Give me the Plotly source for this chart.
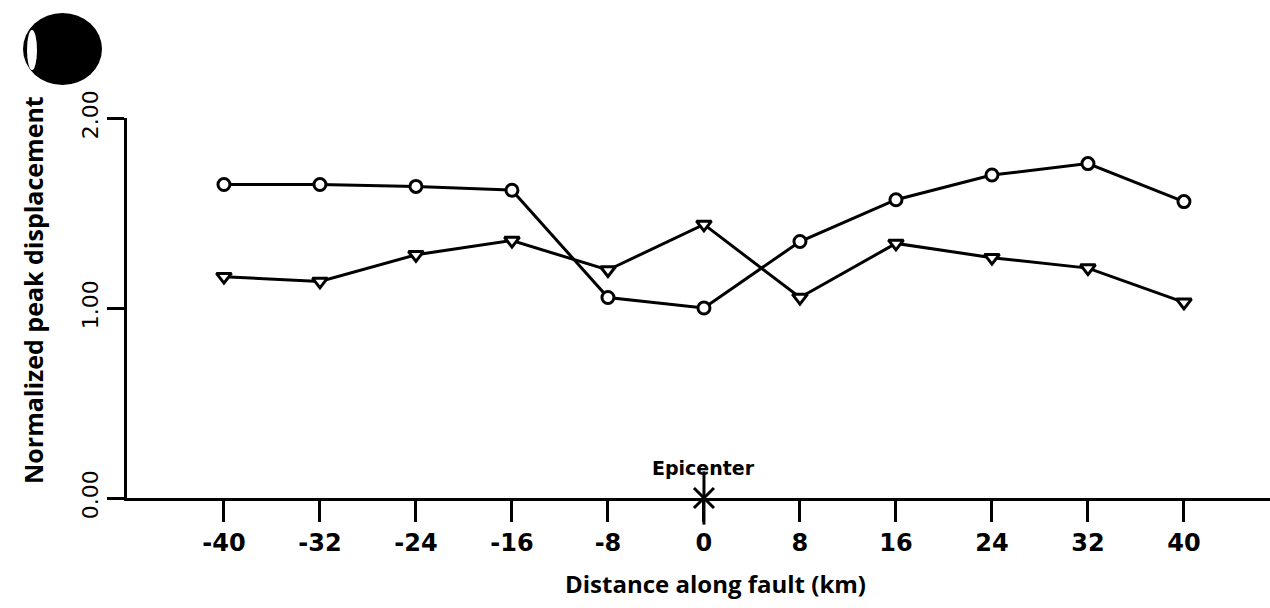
import plotly.graph_objects as go

# Distance along the fault (km)
distance_km = [-40, -32, -24, -16, -8, 0, 8, 16, 24, 32, 40]

# Normalized peak displacement, two station sets
circle_series = [1.65, 1.65, 1.64, 1.62, 1.055, 1.00, 1.35, 1.57, 1.70, 1.76, 1.56]
triangle_series = [1.165, 1.14, 1.28, 1.355, 1.20, 1.44, 1.055, 1.34, 1.265, 1.21, 1.03]

x_ticks = [-40, -32, -24, -16, -8, 0, 8, 16, 24, 32, 40]
x_tick_labels = ["-40", "-32", "-24", "-16", "-8", "0", "8", "16", "24", "32", "40"]
y_ticks = [0, 1, 2]
y_tick_labels = ["0.00", "1.00", "2.00"]

epicenter_x = [0]
epicenter_y = [0]

W, H = 1270, 608
ML, MR, MT, MB = 127, 0, 118, 110
PW = W - ML - MR
PH = H - MT - MB


def px_x(p):
    return (p - ML) / PW


def px_y(p):
    return (H - MB - p) / PH


fig = go.Figure()

fig.add_trace(go.Scatter(
    x=distance_km, y=circle_series, mode="lines+markers",
    line=dict(color="black", width=3),
    marker=dict(symbol="circle", size=12, color="white",
                line=dict(color="black", width=3)),
    cliponaxis=False, showlegend=False,
))
fig.add_trace(go.Scatter(
    x=distance_km, y=triangle_series, mode="lines+markers",
    line=dict(color="black", width=3),
    marker=dict(symbol="triangle-down", size=13, color="white",
                line=dict(color="black", width=3)),
    cliponaxis=False, showlegend=False,
))

# Epicenter symbol on the distance axis
fig.add_trace(go.Scatter(
    x=epicenter_x, y=epicenter_y, mode="markers",
    marker=dict(symbol="x-thin-open", size=20, color="black",
                line=dict(color="black", width=3)),
    cliponaxis=False, showlegend=False,
))
fig.add_trace(go.Scatter(
    x=epicenter_x, y=epicenter_y, mode="markers",
    marker=dict(symbol="line-ns-open", size=38, color="black",
                line=dict(color="black", width=3)),
    cliponaxis=False, showlegend=False,
))

fig.update_xaxes(
    range=[-48.08, 47.17], showgrid=False, zeroline=False,
    showline=True, linecolor="black", linewidth=3,
    ticks="outside", ticklen=21, tickwidth=3, tickcolor="black",
    tickvals=x_ticks, ticktext=x_tick_labels,
    tickfont=dict(family="DejaVu Sans", size=24, color="black", weight="bold"),
)
fig.update_yaxes(
    range=[0, 2], showgrid=False, zeroline=False,
    showline=True, linecolor="black", linewidth=3,
    ticks="outside", ticklen=17, tickwidth=3, tickcolor="black",
    tickvals=y_ticks, ticktext=y_tick_labels, tickangle=-90,
    tickfont=dict(family="DejaVu Sans", size=22, color="black"),
)

fig.update_layout(
    width=W, height=H,
    margin=dict(l=ML, r=MR, t=MT, b=MB),
    paper_bgcolor="white", plot_bgcolor="white",
    annotations=[
        dict(text="<b>Distance along fault (km)</b>", xref="paper", yref="paper",
             x=px_x(715), y=px_y(583), showarrow=False,
             font=dict(family="Open Sans", size=24, color="black"),
             xanchor="center", yanchor="middle"),
        dict(text="<b>Normalized peak displacement</b>", xref="paper", yref="paper",
             x=px_x(33), y=px_y(290), showarrow=False, textangle=-90,
             font=dict(family="Open Sans", size=25, color="black"),
             xanchor="center", yanchor="middle"),
        dict(text="<b>Epicenter</b>", xref="x", yref="paper",
             x=epicenter_x[0], y=px_y(468), showarrow=False,
             font=dict(family="DejaVu Sans", size=19, color="black"),
             xanchor="center", yanchor="middle"),
    ],
    shapes=[
        # punched hole in the page corner
        dict(type="circle", xref="paper", yref="paper",
             x0=px_x(23), x1=px_x(102), y0=px_y(85), y1=px_y(13),
             fillcolor="black", line=dict(color="black", width=0)),
        dict(type="circle", xref="paper", yref="paper",
             x0=px_x(27), x1=px_x(37), y0=px_y(70), y1=px_y(30),
             fillcolor="white", line=dict(color="white", width=0)),
    ],
)

fig.write_html("out.html")
